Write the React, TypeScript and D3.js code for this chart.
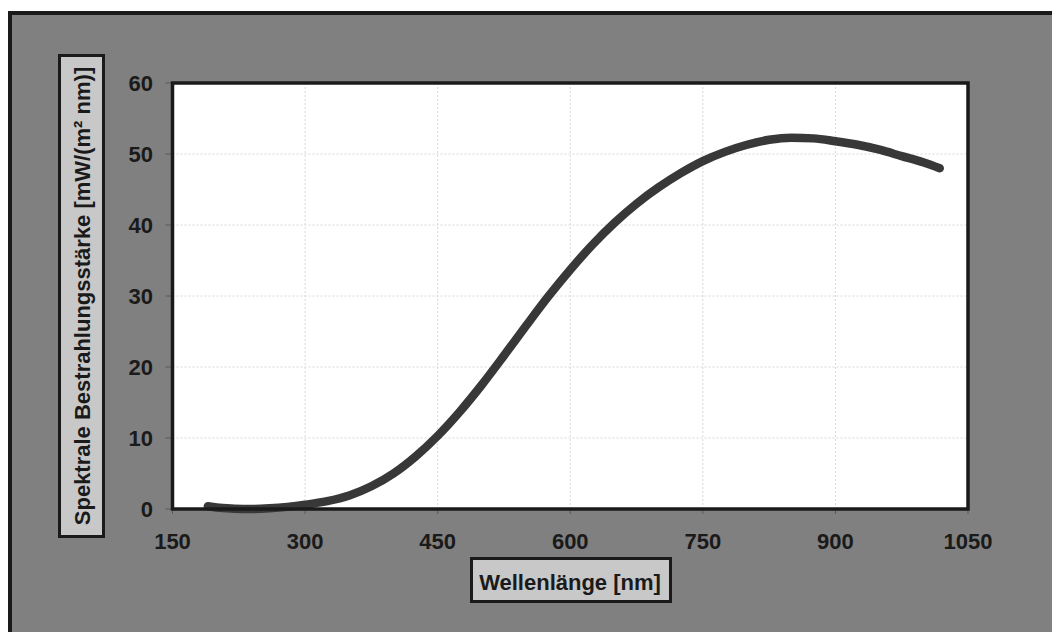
import React from "react";
import * as d3 from "d3";

const wavelengths = [190, 200, 220, 240, 260, 280, 300, 325, 350, 375, 400, 425, 450, 475, 500, 525, 550, 575, 600, 625, 650, 675, 700, 725, 750, 775, 800, 825, 850, 875, 900, 925, 950, 975, 1000, 1018];
const irradiance = [0.4, 0.2, 0.05, 0.0, 0.1, 0.3, 0.6, 1.1, 1.9, 3.2, 5.0, 7.4, 10.3, 13.7, 17.5, 21.6, 25.8, 29.9, 33.7, 37.2, 40.3, 43.0, 45.3, 47.3, 49.0, 50.3, 51.3, 52.0, 52.3, 52.2, 51.8, 51.3, 50.6, 49.7, 48.8, 48.0];
const xTicks = [150, 300, 450, 600, 750, 900, 1050];
const yTicks = [0, 10, 20, 30, 40, 50, 60];
const xTitle = "Wellenlänge [nm]";
const yTitle = "Spektrale Bestrahlungsstärke [mW/(m² nm)]";

export default function App() {
  const W = 1052, H = 632;
  const x = d3.scaleLinear().domain([150, 1050]).range([172.5, 968]);
  const y = d3.scaleLinear().domain([0, 60]).range([509, 83]);
  const data = wavelengths.map((w, i) => [w, irradiance[i]] as [number, number]);
  const line = d3.line<[number, number]>().x(d => x(d[0])).y(d => y(d[1])).curve(d3.curveMonotoneX);
  const font = "'Liberation Sans', Arial, sans-serif";
  return (
    <svg width={W} height={H} style={{ position: "absolute", left: 0, top: 0, background: "#fff" }}>
      <rect x={10} y={13} width={1200} height={800} fill="#808080" stroke="#1a1a1a" strokeWidth={4} />
      <rect x={x(150)} y={y(60)} width={x(1050) - x(150)} height={y(0) - y(60)} fill="#ffffff" />
      {xTicks.slice(1, -1).map(t => (
        <line key={"gx" + t} x1={x(t)} x2={x(t)} y1={y(60)} y2={y(0)} stroke="#d8d8d8" strokeWidth={1} strokeDasharray="2,2" />
      ))}
      {yTicks.slice(1, -1).map(t => (
        <line key={"gy" + t} x1={x(150)} x2={x(1050)} y1={y(t)} y2={y(t)} stroke="#d8d8d8" strokeWidth={1} strokeDasharray="2,2" />
      ))}
      <path d={line(data) || ""} fill="none" stroke="#383838" strokeWidth={8.5} strokeLinecap="round" strokeLinejoin="round" />
      {yTicks.map(t => (
        <g key={"ty" + t}>
          <line x1={x(150) - 7} x2={x(150)} y1={y(t)} y2={y(t)} stroke="#5a5a5a" strokeWidth={1} />
          <text x={153} y={y(t)} dy="0.36em" textAnchor="end" fontFamily={font} fontWeight="bold" fontSize={22} fill="#1a1a1a">{t}</text>
        </g>
      ))}
      {xTicks.map(t => (
        <g key={"tx" + t}>
          <line x1={x(t)} x2={x(t)} y1={y(0)} y2={y(0) + 5} stroke="#5a5a5a" strokeWidth={1} />
          <text x={x(t)} y={549} textAnchor="middle" fontFamily={font} fontWeight="bold" fontSize={22} fill="#1a1a1a">{t}</text>
        </g>
      ))}
      <rect x={x(150)} y={y(60)} width={x(1050) - x(150)} height={y(0) - y(60)} fill="none" stroke="#1a1a1a" strokeWidth={3.5} />
      <rect x={471.5} y={558.5} width={199} height={43} fill="#c8c8c8" stroke="#1a1a1a" strokeWidth={3} />
      <text x={570} y={590} textAnchor="middle" fontFamily={font} fontWeight="bold" fontSize={22} fill="#1a1a1a">{xTitle}</text>
      <rect x={59.5} y={55.5} width={44} height={481} fill="#c8c8c8" stroke="#1a1a1a" strokeWidth={3} />
      <text transform="translate(90,296) rotate(-90)" textAnchor="middle" fontFamily={font} fontWeight="bold" fontSize={22} fill="#1a1a1a">{yTitle}</text>
    </svg>
  );
}
